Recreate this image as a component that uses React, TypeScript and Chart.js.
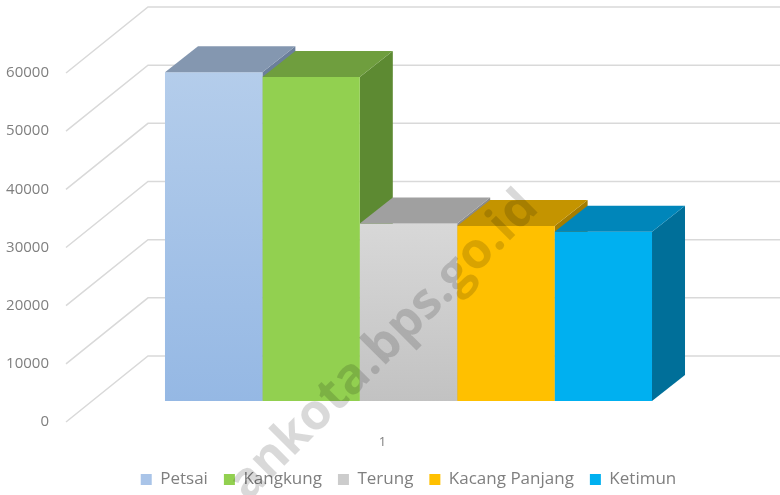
import React, { useEffect, useRef } from "react";
import { Chart, registerables } from "chart.js";

Chart.register(...registerables);

// ---- data ----
const categories = ["1"];
const seriesNames = ["Petsai", "Kangkung", "Terung", "Kacang Panjang", "Ketimun"];
const petsai = [56500];
const kangkung = [55700];
const terung = [30500];
const kacangPanjang = [30100];
const ketimun = [29100];
const seriesValues = [petsai, kangkung, terung, kacangPanjang, ketimun];
const yMin = 0;
const yMax = 60000;
const yStep = 10000;
const watermarkText = "ankota.bps.go.id";

// ---- styles ----
const frontColors: [string, string][] = [
  ["#b4cdeb", "#95b8e4"],
  ["#92d050", "#92d050"],
  ["#d8d8d8", "#c2c2c2"],
  ["#ffc000", "#ffc000"],
  ["#00b0f0", "#00b0f0"],
];
const legendColors = ["#a9c4e8", "#92d050", "#cccccc", "#ffc000", "#00b0f0"];
const topColors = ["#8497b0", "#6f9e3e", "#a0a0a0", "#c49400", "#0086ba"];
const sideColors = ["#6b7f9b", "#5d8a32", "#8a8a8a", "#a57d00", "#006f99"];
const gridColor = "#d9d9d9";
const textColor = "#7f7f7f";
const FONT = "'Open Sans', sans-serif";

// 3D geometry (relative to bar plane)
const FRONT_DX = -26;
const FRONT_DY = 21;
const BACK_DX = 56;
const BACK_DY = -45;
const BAR_DX = 33;
const BAR_DY = -26;

function frontFill(i: number) {
  return (c: any) => {
    const [top, bottom] = frontColors[i];
    const chart = c.chart;
    const ys = chart.scales && chart.scales.y;
    if (!chart.chartArea || !ys || c.raw == null || top === bottom) return top;
    const y0 = ys.getPixelForValue(c.raw as number);
    const y1 = ys.getPixelForValue(0);
    if (!isFinite(y0) || !isFinite(y1) || y0 === y1) return top;
    const g = chart.ctx.createLinearGradient(0, y0, 0, y1);
    g.addColorStop(0, top);
    g.addColorStop(1, bottom);
    return g;
  };
}

function poly(ctx: CanvasRenderingContext2D, pts: number[][], fill: string) {
  ctx.beginPath();
  ctx.moveTo(pts[0][0], pts[0][1]);
  for (let k = 1; k < pts.length; k++) ctx.lineTo(pts[k][0], pts[k][1]);
  ctx.closePath();
  ctx.fillStyle = fill;
  ctx.fill();
}

function barBoxes(chart: any, i: number) {
  const meta = chart.getDatasetMeta(i);
  return meta.data.map((bar: any) => {
    const p = bar.getProps(["x", "y", "base", "width"], true);
    return { left: p.x - p.width / 2, right: p.x + p.width / 2, top: p.y, base: p.base };
  });
}

const depthPlugin = {
  id: "depth3d",
  beforeDatasetsDraw(chart: any) {
    const { ctx, chartArea } = chart;
    const ys = chart.scales.y;
    ctx.save();
    ctx.strokeStyle = gridColor;
    ctx.lineWidth = 1.5;
    for (const t of ys.ticks) {
      const yb = ys.getPixelForValue(t.value);
      ctx.beginPath();
      ctx.moveTo(chartArea.left + FRONT_DX, yb + FRONT_DY);
      ctx.lineTo(chartArea.left + BACK_DX, yb + BACK_DY);
      ctx.lineTo(chart.width, yb + BACK_DY);
      ctx.stroke();
    }
    chart.data.datasets.forEach((_: any, i: number) => {
      for (const b of barBoxes(chart, i)) {
        poly(
          ctx,
          [
            [b.right, b.top],
            [b.right + BAR_DX, b.top + BAR_DY],
            [b.right + BAR_DX, b.base + BAR_DY],
            [b.right, b.base],
          ],
          sideColors[i]
        );
      }
    });
    ctx.restore();
  },
  afterDatasetsDraw(chart: any) {
    const { ctx } = chart;
    ctx.save();
    chart.data.datasets.forEach((_: any, i: number) => {
      for (const b of barBoxes(chart, i)) {
        poly(
          ctx,
          [
            [b.left, b.top],
            [b.left + BAR_DX, b.top + BAR_DY],
            [b.right + BAR_DX, b.top + BAR_DY],
            [b.right, b.top],
          ],
          topColors[i]
        );
      }
    });
    ctx.restore();
  },
  afterDraw(chart: any) {
    const { ctx } = chart;
    ctx.save();
    ctx.translate(384, 346);
    ctx.rotate(-Math.PI / 4);
    ctx.font = `bold 50px ${FONT}`;
    ctx.fillStyle = "rgba(0,0,0,0.15)";
    ctx.textAlign = "center";
    ctx.textBaseline = "middle";
    ctx.fillText(watermarkText, 0, 0);
    ctx.restore();
  },
};

export default function App() {
  const ref = useRef<HTMLCanvasElement>(null);
  useEffect(() => {
    if (!ref.current) return;
    Chart.defaults.font.family = FONT;
    const chart = new Chart(ref.current, {
      type: "bar",
      data: {
        labels: categories,
        datasets: seriesNames.map((name, i) => ({
          label: name,
          data: seriesValues[i],
          backgroundColor: frontFill(i) as any,
          borderWidth: 0,
          categoryPercentage: 0.7694,
          barPercentage: 1,
        })),
      },
      options: {
        animation: false,
        responsive: true,
        maintainAspectRatio: false,
        layout: { padding: { left: 6, right: 55, top: 50, bottom: -3 } },
        plugins: {
          tooltip: { enabled: false },
          legend: {
            position: "bottom",
            fullSize: false,
            labels: {
              boxWidth: 11,
              boxHeight: 11,
              padding: 16,
              color: textColor,
              font: { size: 17, family: FONT },
              generateLabels: (chart: any) => {
                const items = Chart.defaults.plugins.legend.labels.generateLabels(chart);
                return items.map((it: any, i: number) => ({
                  ...it,
                  fillStyle: legendColors[i],
                  strokeStyle: legendColors[i],
                  lineWidth: 0,
                }));
              },
            },
          },
        },
        scales: {
          x: {
            grid: { display: false, drawTicks: false },
            border: { display: false },
            ticks: {
              color: textColor,
              font: { size: 13, family: FONT },
              padding: 33,
              labelOffset: -26,
            },
            afterFit: (s: any) => {
              s.height = 54;
            },
          },
          y: {
            min: yMin,
            max: yMax,
            grid: { display: false, drawTicks: false },
            border: { display: false },
            ticks: {
              stepSize: yStep,
              color: textColor,
              font: { size: 15, family: FONT },
              padding: 43,
              labelOffset: 21,
              callback: (v: any) => String(v),
            },
            afterFit: (s: any) => {
              s.width = 86;
            },
          },
        },
      },
      plugins: [depthPlugin],
    });
    return () => chart.destroy();
  }, []);
  return (
    <div style={{ position: "fixed", left: 0, top: 0, width: 780, height: 495, background: "#fff" }}>
      <canvas ref={ref} />
    </div>
  );
}
